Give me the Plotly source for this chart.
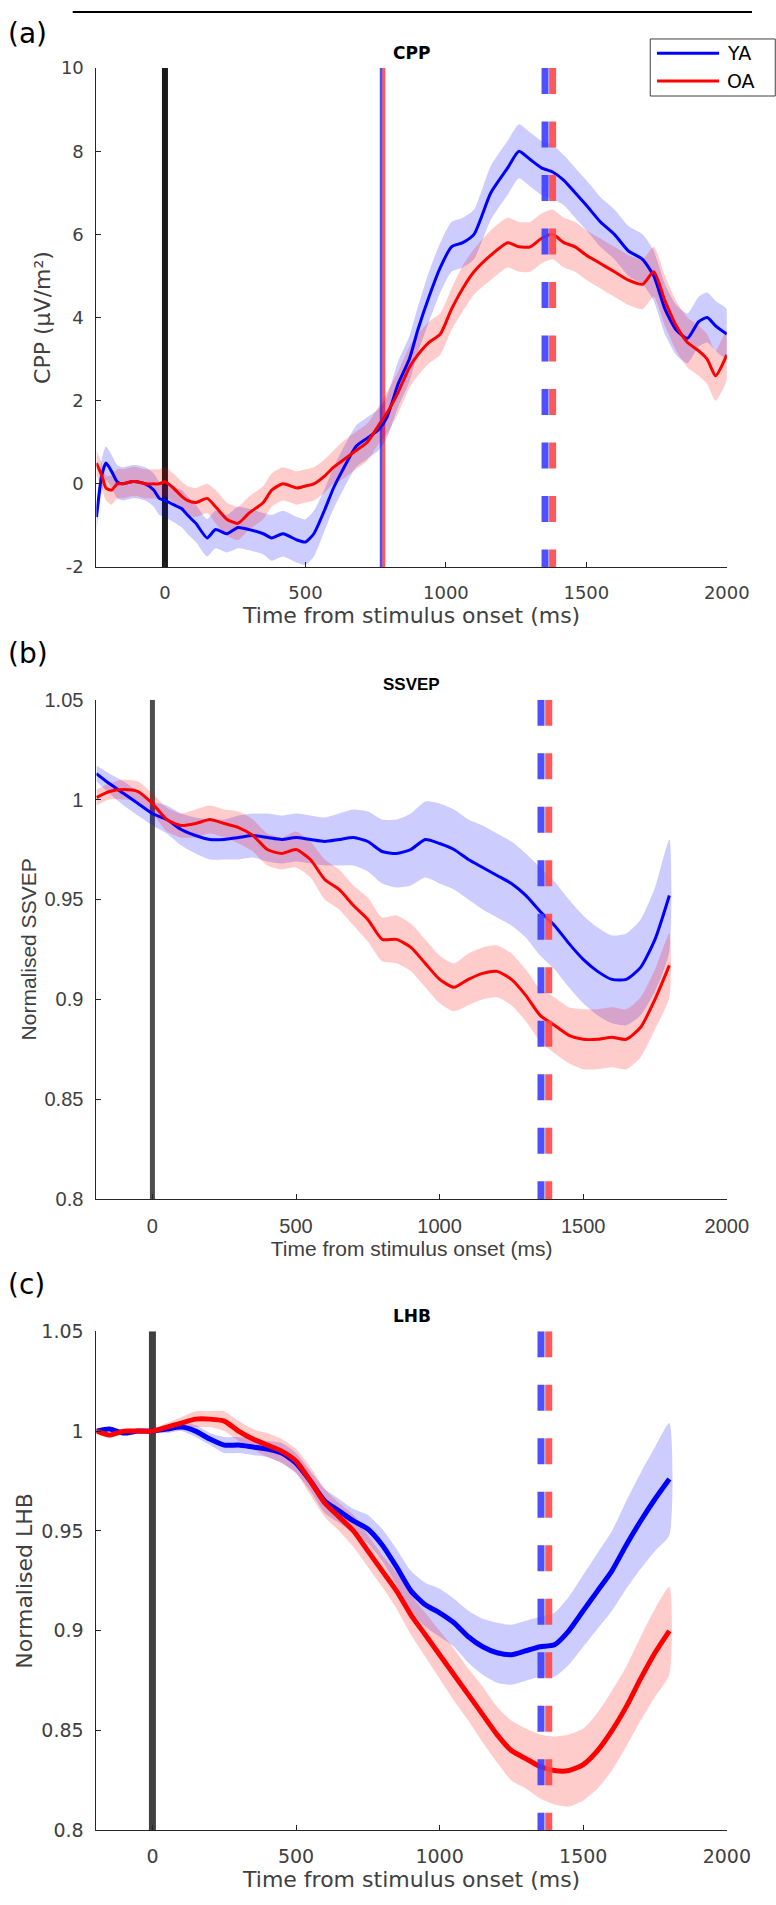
import plotly.graph_objects as go

W, H = 776, 1905

# ---------------- data ----------------
# Panel (a) CPP
cpp_t = [-244, -225, -210, -190, -170, -150, -120, -100, -70, -40, -20, 0, 30, 60, 80, 110, 150, 180, 220, 260,
         300, 350, 380, 420, 470, 500, 530, 570, 600, 630, 680, 720, 760, 790, 830, 870, 900, 940, 980, 1020,
         1060, 1100, 1160, 1220, 1260, 1300, 1340, 1380, 1420, 1460, 1500, 1550, 1600, 1650, 1700, 1740, 1780,
         1820, 1860, 1900, 1930, 1960, 2000]
cpp_ya = [-0.8, 0.2, 0.5, 0.3, 0.05, 0.0, 0.05, 0.05, 0.0, -0.15, -0.35, -0.4, -0.5, -0.6, -0.75, -0.95, -1.3, -1.1, -1.2, -1.05,
          -1.1, -1.2, -1.3, -1.2, -1.35, -1.4, -1.2, -0.6, -0.1, 0.3, 0.9, 1.1, 1.3, 1.6, 2.4, 3.0, 3.7, 4.5, 5.2, 5.7,
          5.8, 6.0, 7.0, 7.6, 8.0, 7.8, 7.6, 7.5, 7.3, 7.0, 6.7, 6.3, 6.0, 5.6, 5.4, 5.0, 4.2,
          3.7, 3.5, 3.9, 4.0, 3.8, 3.6]
cpp_ya_sem = [0.35, 0.4, 0.4, 0.4, 0.4, 0.4, 0.4, 0.4, 0.4, 0.4, 0.4, 0.4, 0.42, 0.45, 0.45, 0.45, 0.45, 0.45, 0.45, 0.5,
              0.5, 0.5, 0.55, 0.55, 0.55, 0.55, 0.55, 0.5, 0.5, 0.5, 0.5, 0.5, 0.5, 0.5, 0.55, 0.55, 0.55, 0.6, 0.6, 0.6,
              0.6, 0.6, 0.65, 0.65, 0.65, 0.65, 0.65, 0.65, 0.6, 0.6, 0.6, 0.6, 0.6, 0.6, 0.6, 0.6, 0.6,
              0.6, 0.6, 0.6, 0.6, 0.6, 0.6]
cpp_oa = [0.5, 0.2, -0.1, -0.15, 0.0, 0.0, 0.05, 0.05, 0.0, 0.0, 0.0, 0.05, -0.1, -0.3, -0.4, -0.45, -0.35, -0.55, -0.85, -0.95,
          -0.7, -0.45, -0.15, 0.0, -0.1, -0.05, 0.0, 0.2, 0.4, 0.55, 0.8, 1.0, 1.4, 1.7, 2.2, 2.8, 3.1, 3.4, 3.6, 4.2,
          4.7, 5.1, 5.5, 5.8, 5.7, 5.7, 5.9, 6.0, 5.8, 5.7, 5.5, 5.3, 5.1, 4.9, 4.8, 5.1, 4.4,
          3.8, 3.4, 3.2, 3.0, 2.6, 3.1]
cpp_oa_sem = [0.3, 0.3, 0.3, 0.35, 0.35, 0.35, 0.35, 0.35, 0.35, 0.35, 0.35, 0.35, 0.35, 0.35, 0.35, 0.35, 0.35, 0.4, 0.4, 0.4,
              0.4, 0.4, 0.4, 0.4, 0.4, 0.4, 0.4, 0.4, 0.4, 0.45, 0.45, 0.45, 0.45, 0.5, 0.5, 0.5, 0.5, 0.5, 0.5, 0.5,
              0.55, 0.55, 0.6, 0.6, 0.6, 0.6, 0.6, 0.6, 0.6, 0.6, 0.6, 0.6, 0.6, 0.6, 0.6, 0.6, 0.6,
              0.6, 0.6, 0.6, 0.6, 0.6, 0.6]

# Panel (b) SSVEP  and  panel (c) LHB share a time base
t_bc = [-195, -150, -100, -50, 0, 50, 100, 150, 200, 250, 300, 350, 400, 450, 500, 550, 600, 650, 700, 750, 800,
        850, 900, 950, 1000, 1050, 1100, 1150, 1200, 1250, 1300, 1350, 1400, 1450, 1500, 1550, 1600, 1650, 1700,
        1750, 1800]
ssvep_ya = [1.013, 1.008, 1.003, 0.998, 0.993, 0.990, 0.985, 0.982, 0.980, 0.980, 0.981, 0.982, 0.981, 0.980, 0.981,
            0.980, 0.979, 0.980, 0.981, 0.979, 0.974, 0.973, 0.975, 0.980, 0.978, 0.975, 0.970, 0.966, 0.962, 0.958,
            0.952, 0.944, 0.937, 0.928, 0.920, 0.914, 0.910, 0.910, 0.916, 0.930, 0.952]
ssvep_ya_sem = [0.004, 0.005, 0.006, 0.006, 0.006, 0.007, 0.008, 0.009, 0.010, 0.010, 0.011, 0.011, 0.012, 0.012, 0.012,
                0.012, 0.012, 0.013, 0.014, 0.015, 0.016, 0.017, 0.018, 0.019, 0.020, 0.020, 0.020, 0.021, 0.021, 0.021,
                0.021, 0.022, 0.022, 0.022, 0.022, 0.022, 0.022, 0.023, 0.024, 0.026, 0.028]
ssvep_oa = [1.001, 1.004, 1.005, 1.004, 0.998, 0.990, 0.987, 0.988, 0.990, 0.988, 0.986, 0.982, 0.975, 0.973, 0.975,
            0.970, 0.960, 0.955, 0.947, 0.940, 0.930, 0.930, 0.926, 0.918, 0.910, 0.906, 0.910, 0.913, 0.914, 0.910,
            0.902, 0.892, 0.887, 0.882, 0.880, 0.880, 0.881, 0.880, 0.886, 0.900, 0.917]
ssvep_oa_sem = [0.004, 0.004, 0.005, 0.005, 0.005, 0.006, 0.006, 0.007, 0.007, 0.007, 0.008, 0.008, 0.008, 0.008, 0.009,
                0.009, 0.010, 0.010, 0.010, 0.011, 0.011, 0.012, 0.012, 0.012, 0.012, 0.012, 0.013, 0.013, 0.013, 0.013,
                0.013, 0.013, 0.014, 0.014, 0.015, 0.015, 0.015, 0.015, 0.015, 0.015, 0.016]

lhb_ya = [1.000, 1.001, 0.999, 1.000, 1.000, 1.001, 1.002, 1.000, 0.996, 0.993, 0.993, 0.992, 0.991, 0.989, 0.984,
          0.975, 0.965, 0.960, 0.955, 0.951, 0.943, 0.932, 0.920, 0.913, 0.909, 0.904, 0.897, 0.892, 0.889, 0.888,
          0.890, 0.892, 0.893, 0.900, 0.910, 0.920, 0.930, 0.943, 0.955, 0.966, 0.976]
lhb_ya_sem = [0.001, 0.001, 0.001, 0.001, 0.001, 0.002, 0.002, 0.003, 0.003, 0.004, 0.004, 0.004, 0.004, 0.005, 0.005,
              0.005, 0.006, 0.006, 0.006, 0.007, 0.008, 0.009, 0.010, 0.011, 0.012, 0.012, 0.013, 0.014, 0.015, 0.015,
              0.015, 0.015, 0.016, 0.017, 0.018, 0.019, 0.020, 0.022, 0.024, 0.026, 0.028]
lhb_oa = [1.000, 0.998, 1.000, 1.000, 1.000, 1.002, 1.004, 1.006, 1.006, 1.005, 1.000, 0.996, 0.993, 0.990, 0.985,
          0.975, 0.964, 0.957, 0.950, 0.940, 0.930, 0.920, 0.908, 0.898, 0.888, 0.878, 0.868, 0.858, 0.848, 0.840,
          0.836, 0.832, 0.830, 0.830, 0.833, 0.840, 0.850, 0.862, 0.876, 0.889, 0.900]
lhb_oa_sem = [0.001, 0.001, 0.001, 0.001, 0.001, 0.002, 0.003, 0.004, 0.004, 0.005, 0.005, 0.005, 0.006, 0.006, 0.006,
              0.007, 0.007, 0.007, 0.008, 0.008, 0.008, 0.009, 0.010, 0.011, 0.012, 0.013, 0.013, 0.014, 0.014, 0.015,
              0.015, 0.016, 0.017, 0.018, 0.018, 0.019, 0.020, 0.020, 0.021, 0.022, 0.022]

onset_t = 0
cpp_onset_ya, cpp_onset_oa = 770, 779
rt_ya, rt_oa = 1353, 1380

panel_labels = ["(a)", "(b)", "(c)"]
titles = ["CPP", "SSVEP", "LHB"]
ytitles = ["CPP (μV/m²)", "Normalised SSVEP", "Normalised LHB"]
xtitle = "Time from stimulus onset (ms)"
legend_names = ["YA", "OA"]

# ---------------- styling ----------------
BLUE, RED = "#0000ff", "#ff0000"
BLUE_F, RED_F = "rgba(0,0,255,0.2)", "rgba(255,0,0,0.2)"
BLUE_D, RED_D = "rgba(60,60,255,0.9)", "rgba(255,70,70,0.9)"
AX = "#262626"
TXT = "#404040"
DV = "DejaVu Sans"
AR = "Liberation Sans"

def px(x):
    return x / W

def py(y):
    return 1 - y / H

# panel geometry (pixels): x0, x1, ytop, ybottom
geo = [
    (99.5, 750, 57.7, 562.5),
    (99.5, 750, 696.7, 1202.0),
    (99.5, 750, 1335.7, 1840.7),
]
xranges = [[-244, 2000], [-195, 2000], [-195, 2000]]
yranges = [[-2, 10], [0.8, 1.05], [0.8, 1.05]]
yticks = [[-2, 0, 2, 4, 6, 8, 10], [0.8, 0.85, 0.9, 0.95, 1, 1.05], [0.8, 0.85, 0.9, 0.95, 1, 1.05]]
ytext = [["-2", "0", "2", "4", "6", "8", "10"], ["0.8", "0.85", "0.9", "0.95", "1", "1.05"],
         ["0.8", "0.85", "0.9", "0.95", "1", "1.05"]]
fonts = [DV, AR, DV]
tick_size = [18, 20, 19]
title_size = [22, 21, 22]
ystand = [4, 2, 2]
lw = [3, 3, 5]

fig = go.Figure()

def band(t, m, s, color, xa, ya):
    up = [a + b for a, b in zip(m, s)]
    lo = [a - b for a, b in zip(m, s)]
    fig.add_trace(go.Scatter(x=t + t[::-1], y=up + lo[::-1], fill="toself", fillcolor=color,
                             line=dict(width=0, shape="spline", smoothing=0.6), hoverinfo="skip",
                             showlegend=False, xaxis=xa, yaxis=ya))

def curve(t, m, color, width, xa, ya, name):
    fig.add_trace(go.Scatter(x=t, y=m, mode="lines", line=dict(color=color, width=width, shape="spline", smoothing=0.6),
                             name=name, showlegend=False, xaxis=xa, yaxis=ya))

def vline(x, yr, color, width, xa, ya, dash="solid"):
    fig.add_trace(go.Scatter(x=[x, x], y=[yr[1], yr[0]], mode="lines", line=dict(color=color, width=width, dash=dash),
                             hoverinfo="skip", showlegend=False, xaxis=xa, yaxis=ya))

data = [
    (cpp_t, cpp_ya, cpp_ya_sem, cpp_oa, cpp_oa_sem),
    (t_bc, ssvep_ya, ssvep_ya_sem, ssvep_oa, ssvep_oa_sem),
    (t_bc, lhb_ya, lhb_ya_sem, lhb_oa, lhb_oa_sem),
]
onset_col = ["#1a1a1a", "#4d4d4d", "#404040"]
onset_w = [6, 5, 7]

for i in range(3):
    xa = "x" if i == 0 else f"x{i+1}"
    ya = "y" if i == 0 else f"y{i+1}"
    t, mya, sya, moa, soa = data[i]
    vline(onset_t, yranges[i], onset_col[i], onset_w[i], xa, ya)
    if i == 0:
        vline(cpp_onset_ya, yranges[i], "rgba(70,70,255,0.95)", 3, xa, ya)
        vline(cpp_onset_oa, yranges[i], "rgba(255,80,80,0.95)", 3, xa, ya)
    band(t, mya, sya, BLUE_F, xa, ya)
    band(t, moa, soa, RED_F, xa, ya)
    curve(t, mya, BLUE, lw[i], xa, ya, legend_names[0])
    curve(t, moa, RED, lw[i], xa, ya, legend_names[1])
    vline(rt_ya, yranges[i], BLUE_D, 7, xa, ya, dash="26px,27.5px")
    vline(rt_oa, yranges[i], RED_D, 7, xa, ya, dash="26px,27.5px")

layout = dict(width=W, height=H, margin=dict(l=0, r=0, t=0, b=0), paper_bgcolor="white", plot_bgcolor="white")
annotations = []
for i in range(3):
    x0, x1, yt, yb = geo[i]
    sfx = "" if i == 0 else str(i + 1)
    f = fonts[i]
    layout["xaxis" + sfx] = dict(domain=[px(x0), px(x1)], range=xranges[i], anchor="y" + sfx,
                                 tickvals=[0, 500, 1000, 1500, 2000], ticks="inside", ticklen=5, tickcolor=AX,
                                 showline=True, linecolor=AX, linewidth=1, showgrid=False, zeroline=False,
                                 tickfont=dict(family=f, size=tick_size[i], color=TXT), ticklabelstandoff=9,
                                 title=dict(text=xtitle, font=dict(family=f, size=title_size[i], color=TXT), standoff=4))
    layout["yaxis" + sfx] = dict(domain=[py(yb), py(yt)], range=yranges[i], anchor="x" + sfx,
                                 tickvals=yticks[i], ticktext=ytext[i], ticks="inside", ticklen=5, tickcolor=AX,
                                 showline=True, linecolor=AX, linewidth=1, showgrid=False, zeroline=False,
                                 tickfont=dict(family=f, size=tick_size[i], color=TXT), ticklabelstandoff=8,
                                 title=dict(text=ytitles[i], font=dict(family=f, size=title_size[i], color=TXT),
                                            standoff=ystand[i]))
    annotations.append(dict(text=titles[i], x=px((x0 + x1) / 2), y=py(yt - 15), xref="paper", yref="paper",
                            showarrow=False, font=dict(family=f, size=17, color="#000000", weight="bold"),
                            xanchor="center", yanchor="middle"))
    annotations.append(dict(text=panel_labels[i], x=px(6), y=py(yt - 35 if i == 0 else yt - 47), xref="paper",
                            yref="paper", showarrow=False, font=dict(family=DV, size=28, color="#000000"),
                            xanchor="left", yanchor="middle"))

# legend (panel a)
leg_y = [42.7, 70.7]
leg_c = [BLUE, RED]
shapes = [
    dict(type="line", xref="paper", yref="paper", x0=px(75), x1=1.0, y0=py(1), y1=py(1), line=dict(color="#000", width=2)),
    dict(type="rect", xref="paper", yref="paper", x0=px(671), x1=px(800), y0=py(28.3), y1=py(86),
         line=dict(color="#404040", width=1), fillcolor="white", layer="above"),
]
for k in range(2):
    shapes.append(dict(type="line", xref="paper", yref="paper", x0=px(678), x1=px(742), y0=py(leg_y[k]), y1=py(leg_y[k]),
                       line=dict(color=leg_c[k], width=3), layer="above"))
    annotations.append(dict(text=legend_names[k], x=px(748), y=py(leg_y[k]), xref="paper", yref="paper",
                            showarrow=False, font=dict(family=DV, size=19, color="#000"), xanchor="left",
                            yanchor="middle"))
layout["shapes"] = shapes
layout["annotations"] = annotations
fig.update_layout(**layout)
fig.write_html("out.html")
